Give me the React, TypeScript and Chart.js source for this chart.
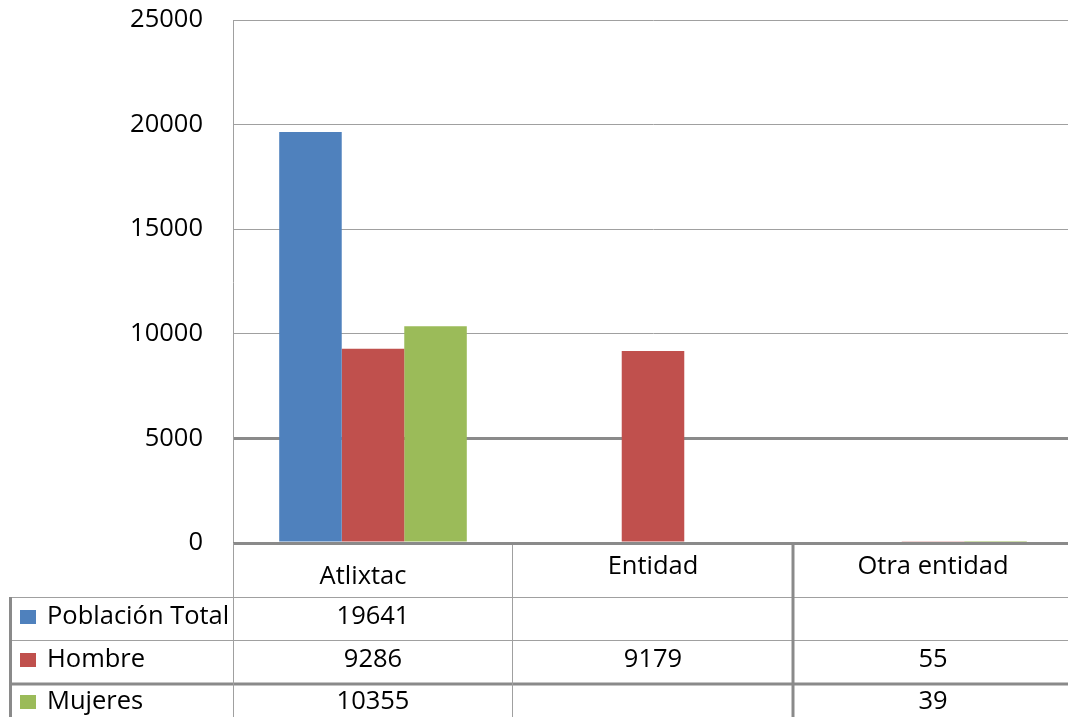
import React, { useEffect, useRef } from 'react';
import { Chart, registerables } from 'chart.js';

Chart.register(...registerables);

const categories = ['Atlixtac', 'Entidad', 'Otra entidad'];
const seriesNames = ['Población Total', 'Hombre', 'Mujeres'];
const poblacionTotal: (number | null)[] = [19641, null, null];
const hombre: (number | null)[] = [9286, 9179, 55];
const mujeres: (number | null)[] = [10355, null, 39];
const seriesColors = ['#4F81BD', '#C0504D', '#9BBB59'];
const yMax = 25000;
const yStep = 5000;

const FONT_FAMILY = '"Open Sans", "Noto Sans", sans-serif';
const FONT_SIZE = 25.5;
const THIN = '#a0a0a0';
const THICK = '#8a8a8a';

const seriesValues = [poblacionTotal, hombre, mujeres];

const tablePlugin = {
  id: 'dataTable',
  afterDatasetsDraw(chart: any) {
    const { ctx, chartArea } = chart;
    const xs = chart.scales.x;
    const left = chartArea.left;
    const bottom = chartArea.bottom;
    const right = chart.width;
    const catW = (chartArea.right - chartArea.left) / categories.length;

    const line = (x1: number, y1: number, x2: number, y2: number, w: number, c: string) => {
      ctx.save();
      ctx.strokeStyle = c;
      ctx.lineWidth = w;
      ctx.beginPath();
      ctx.moveTo(x1, y1);
      ctx.lineTo(x2, y2);
      ctx.stroke();
      ctx.restore();
    };

    const headerBottom = bottom + 54.5;
    const row1Bottom = bottom + 97.5;
    const row2Bottom = bottom + 141;
    const legendLeft = 10.5;

    // zero axis line
    line(left, bottom + 0.5, right, bottom + 0.5, 3, THICK);
    // horizontal table lines
    line(legendLeft - 1.5, headerBottom, right, headerBottom, 1, THIN);
    line(legendLeft - 1.5, row1Bottom, right, row1Bottom, 1, THIN);
    line(legendLeft - 1.5, row2Bottom, right, row2Bottom, 3, THICK);
    // vertical lines
    line(left + 0.5, bottom, left + 0.5, chart.height, 1, THIN);
    line(left + catW - 0.5, bottom + 2, left + catW - 0.5, chart.height, 1, THIN);
    line(left + 2 * catW, bottom + 2, left + 2 * catW, chart.height, 3, THICK);
    line(legendLeft, headerBottom - 0.5, legendLeft, chart.height, 3, THICK);

    ctx.save();
    ctx.font = `${FONT_SIZE}px ${FONT_FAMILY}`;
    ctx.fillStyle = '#000';
    ctx.textBaseline = 'middle';

    // header row (category names)
    ctx.textAlign = 'center';
    categories.forEach((c, i) => {
      const cx = xs.getPixelForValue(i);
      const cy = i === 0 ? bottom + 34 : bottom + 24;
      ctx.fillText(c, cx - (i === 0 ? 10 : 0), cy);
    });

    const rowCenters = [bottom + 74, bottom + 117, bottom + 159];
    seriesNames.forEach((name, r) => {
      const cy = rowCenters[r];
      // legend key
      ctx.fillStyle = seriesColors[r];
      ctx.fillRect(20, Math.round(cy - 7), 16, 14);
      ctx.fillStyle = '#000';
      ctx.textAlign = 'left';
      ctx.fillText(name, 47, cy);
      ctx.textAlign = 'center';
      seriesValues[r].forEach((v, i) => {
        if (v === null || v === undefined) return;
        ctx.fillText(String(v), xs.getPixelForValue(i), cy);
      });
    });
    ctx.restore();
  },
};

export default function App() {
  const canvasRef = useRef<HTMLCanvasElement | null>(null);

  useEffect(() => {
    if (!canvasRef.current) return;
    const chart = new Chart(canvasRef.current, {
      type: 'bar',
      data: {
        labels: categories,
        datasets: seriesNames.map((name, i) => ({
          label: name,
          data: seriesValues[i] as any,
          backgroundColor: seriesColors[i],
          borderWidth: 0,
          categoryPercentage: 0.67,
          barPercentage: 1,
        })),
      },
      options: {
        animation: false,
        responsive: false,
        maintainAspectRatio: false,
        layout: { padding: { left: 0, top: 20, right: 0, bottom: 174 } },
        plugins: {
          legend: { display: false },
          tooltip: { enabled: false },
        },
        scales: {
          x: { display: false },
          y: {
            min: 0,
            max: yMax,
            afterFit: (scale: any) => {
              scale.width = 233;
              scale.paddingTop = 0;
              scale.paddingBottom = 0;
            },
            ticks: {
              stepSize: yStep,
              padding: 30,
              color: '#000',
              font: { family: FONT_FAMILY, size: FONT_SIZE },
              callback: (v: any) => String(v),
            },
            grid: {
              drawTicks: false,
              color: (c: any) => (c.tick && (c.tick.value === 5000 || c.tick.value === 0) ? THICK : THIN),
              lineWidth: (c: any) => (c.tick && (c.tick.value === 5000 || c.tick.value === 0) ? 3 : 1),
            },
            border: { display: true, color: THIN, width: 1 },
          },
        },
      },
      plugins: [tablePlugin],
    });
    return () => chart.destroy();
  }, []);

  return (
    <div
      style={{
        position: 'fixed',
        left: 0,
        top: 0,
        width: 1068,
        height: 717,
        overflow: 'hidden',
        background: '#fff',
      }}
    >
      <canvas ref={canvasRef} width={1073} height={717} style={{ display: 'block' }} />
    </div>
  );
}
